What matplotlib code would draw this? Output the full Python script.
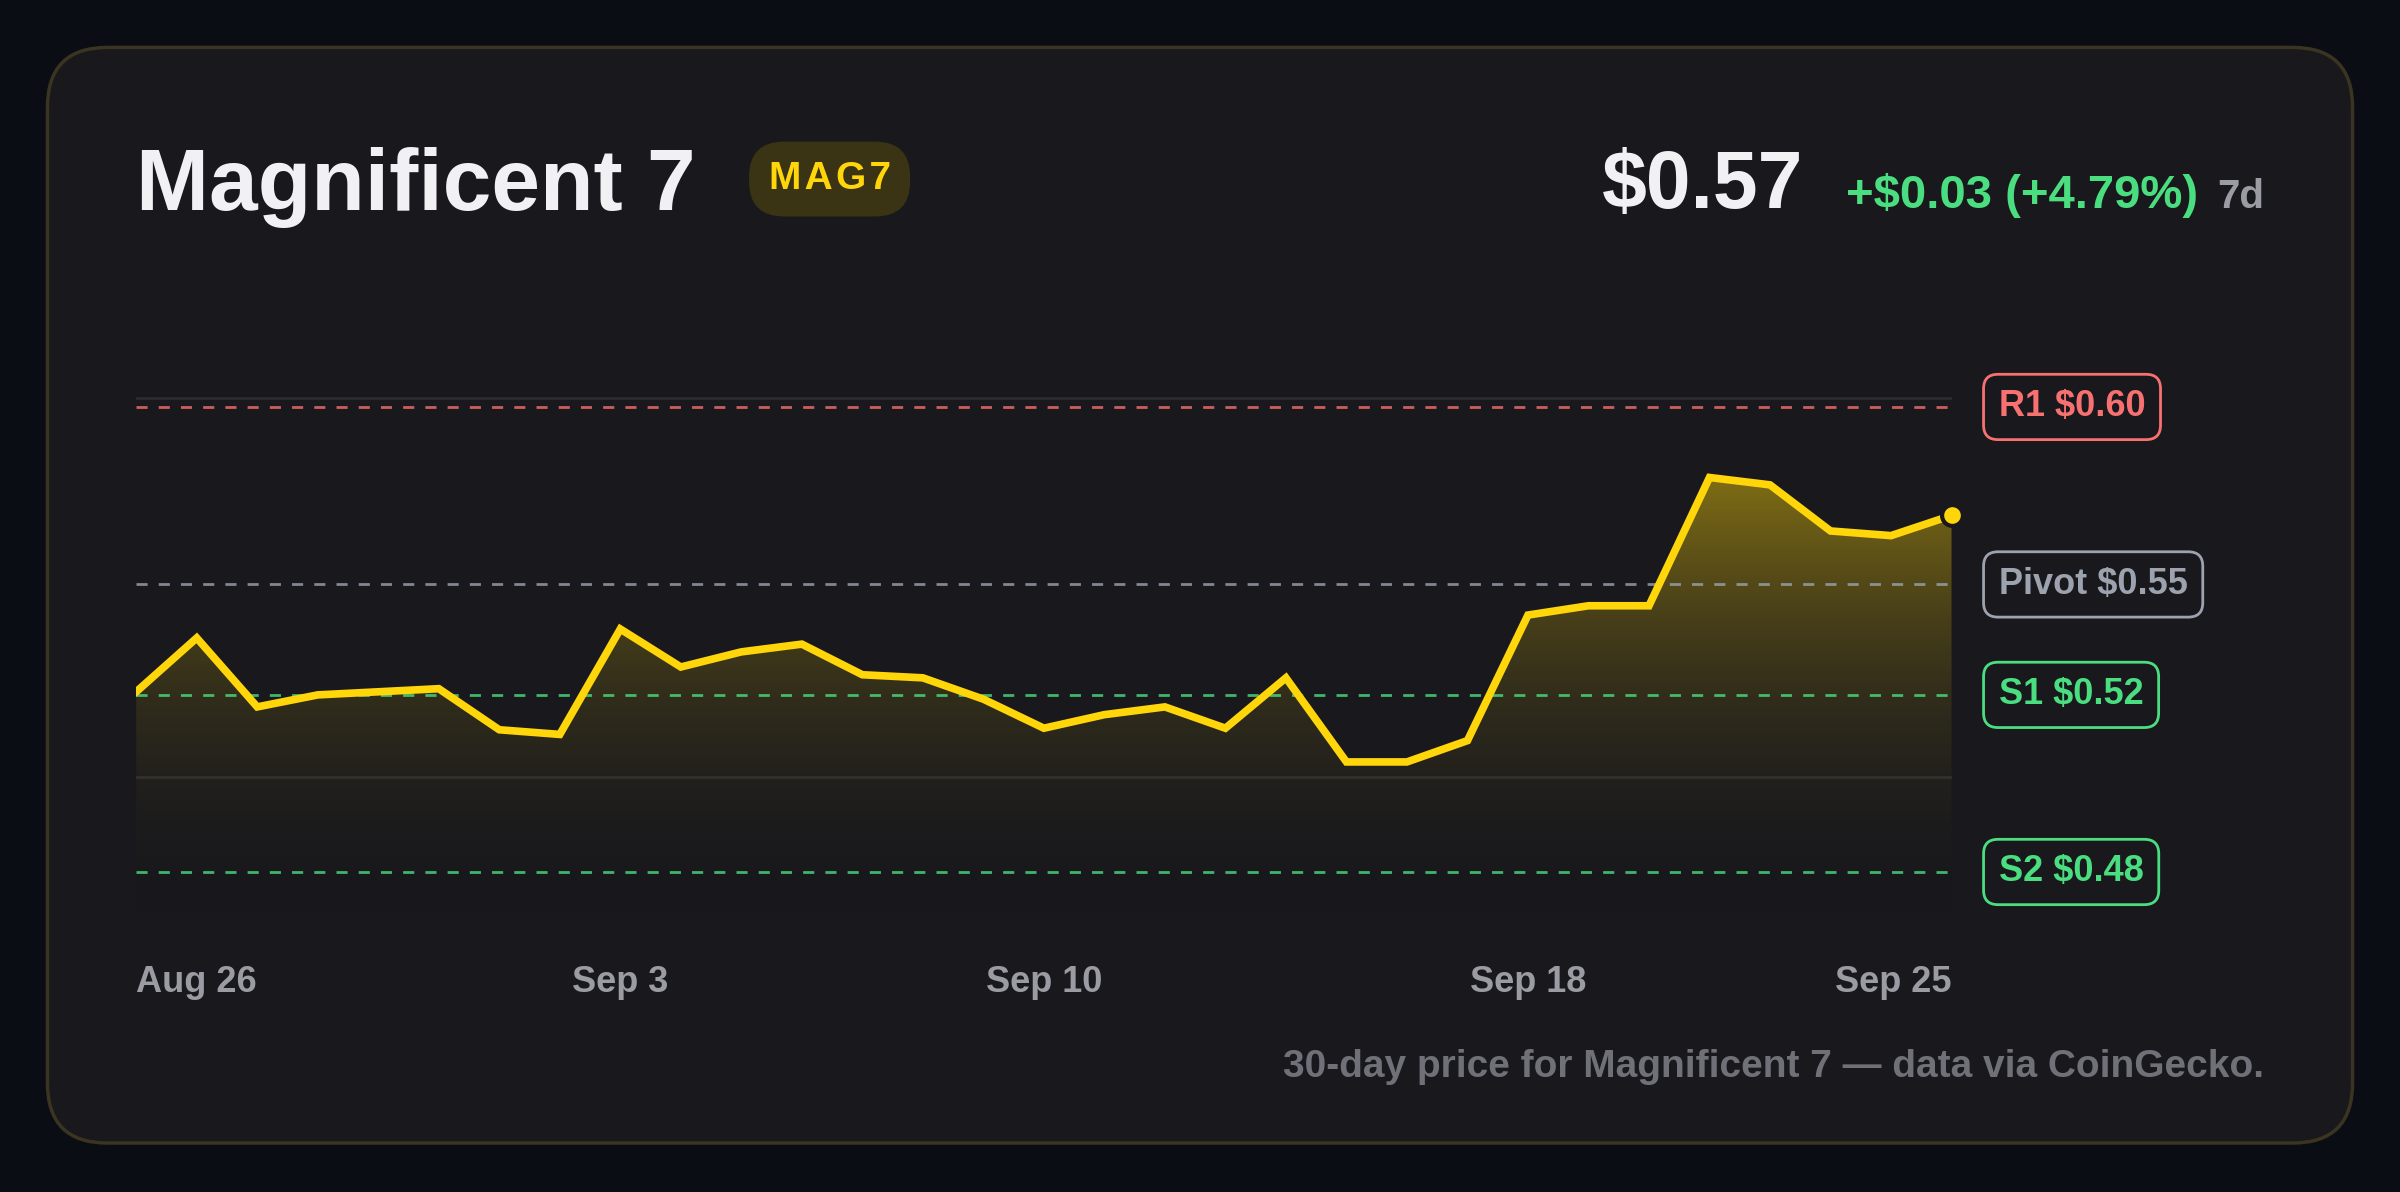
import matplotlib.pyplot as plt
import matplotlib.transforms as mtransforms
from matplotlib.patches import FancyBboxPatch, Polygon
import numpy as np

plt.rcParams['font.family'] = ['Liberation Sans', 'DejaVu Sans']
plt.rcParams['font.weight'] = 'bold'

# ------------------------
# Data
# ------------------------
prices = [0.5265, 0.5404, 0.5226, 0.5257, 0.5265, 0.5273, 0.5167, 0.5155,
          0.5427, 0.5329, 0.5368, 0.5388, 0.5309, 0.5301, 0.5246, 0.5171,
          0.5206, 0.5226, 0.5171, 0.5301, 0.5084, 0.5084, 0.5139, 0.5463,
          0.5487, 0.5487, 0.5818, 0.5799, 0.5680, 0.5668, 0.5720]
tick_idx = [0, 8, 15, 23, 30]
tick_labels = ["Aug 26", "Sep 3", "Sep 10", "Sep 18", "Sep 25"]
level_names = ["R1 $0.60", "Pivot $0.55", "S1 $0.52", "S2 $0.48"]
level_values = [0.600, 0.5542, 0.5257, 0.480]
level_colors = ["#f87171", "#9ca3af", "#4ade80", "#4ade80"]
grid_values = [0.6024, 0.5044]

yellow = "#ffd60a"
card = "#18181d"

fig = plt.figure(figsize=(24, 11.92), dpi=100)
fig.patch.set_facecolor("#0a0d14")

W, H = 1568, 779
def fx(px): return px / W
def fy(py): return 1 - py / H

fig.patches.append(FancyBboxPatch((fx(31), fy(747)), fx(1537) - fx(31), fy(31) - fy(747),
                                  boxstyle="round,pad=0,rounding_size=0.025",
                                  transform=fig.transFigure, facecolor=card,
                                  edgecolor="#3a3420", linewidth=2.5,
                                  mutation_aspect=W / H, zorder=-5))

ax = fig.add_axes([fx(89), fy(600), fx(1275) - fx(89), fy(230) - fy(600)])
ax.set_zorder(2)
ax.set_facecolor("none")
x = np.arange(len(prices))
ymin, ymax = 0.4681, 0.6142
ax.set_xlim(0, len(prices) - 1)
ax.set_ylim(ymin, ymax)
ax.axis("off")

# gradient fill under the line
grad = np.linspace(0, 1, 256).reshape(-1, 1)
cmap = plt.matplotlib.colors.LinearSegmentedColormap.from_list(
    "g", [(0.094, 0.094, 0.114, 0.0), (1.0, 0.84, 0.04, 0.45)])
img = ax.imshow(grad, extent=[0, len(prices) - 1, ymin, max(prices)], origin="lower",
                aspect="auto", cmap=cmap, zorder=1)
poly = Polygon(list(zip(x, prices)) + [(x[-1], ymin), (0, ymin)], closed=True,
               transform=ax.transData, facecolor="none", edgecolor="none")
ax.add_patch(poly)
img.set_clip_path(poly)
ax.set_xlim(0, len(prices) - 1)
ax.set_ylim(ymin, ymax)

for g in grid_values:
    ax.axhline(g, color="#2c2c30", linewidth=2, zorder=0.5)

for v, c in zip(level_values, level_colors):
    ax.axhline(v, color=c, linestyle=(0, (4, 4)), linewidth=2, alpha=0.8, zorder=2)

ax.plot(x, prices, color=yellow, linewidth=5.5, solid_joinstyle="miter", zorder=3)
ax.plot(x[-1], prices[-1], "o", markersize=15, color=yellow,
        markeredgecolor=card, markeredgewidth=3, zorder=4, clip_on=False)

for name, v, c in zip(level_names, level_values, level_colors):
    ax.text(1.026, v, name, transform=ax.get_yaxis_transform(), color=c,
            fontsize=26, va="center", ha="left",
            bbox=dict(boxstyle="round,pad=0.42,rounding_size=0.4", facecolor=card,
                      edgecolor=c, linewidth=2))

trans = mtransforms.blended_transform_factory(ax.transData, fig.transFigure)
for i, lab in zip(tick_idx, tick_labels):
    ha = "left" if i == 0 else ("right" if i == len(prices) - 1 else "center")
    ax.text(i, fy(642), lab, transform=trans, color="#9b9ba3", fontsize=26,
            ha=ha, va="center")

# header
fig.text(fx(89), fy(137), "Magnificent 7", color="#f1f1f4", fontsize=63,
         ha="left", va="baseline")
fig.text(fx(542), fy(117), "M A G 7".replace(" ", "\u200a"), color="#ffd60a",
         fontsize=28, ha="center", va="center",
         bbox=dict(boxstyle="round,pad=0.5,rounding_size=0.9", facecolor="#3a3415",
                   edgecolor="none"))
fig.text(fx(1479), fy(136), "7d", color="#9b9ba3", fontsize=29, ha="right", va="baseline")
fig.text(fx(1436), fy(136), "+$0.03 (+4.79%)", color="#4ade80", fontsize=34,
         ha="right", va="baseline")
fig.text(fx(1178), fy(136), "$0.57", color="#f1f1f4", fontsize=58, ha="right",
         va="baseline")

fig.text(fx(1479), fy(697), "30-day price for Magnificent 7 \u2014 data via CoinGecko.",
         color="#707078", fontsize=28, ha="right", va="center")

fig.savefig("out.png", dpi=100, facecolor=fig.get_facecolor())
